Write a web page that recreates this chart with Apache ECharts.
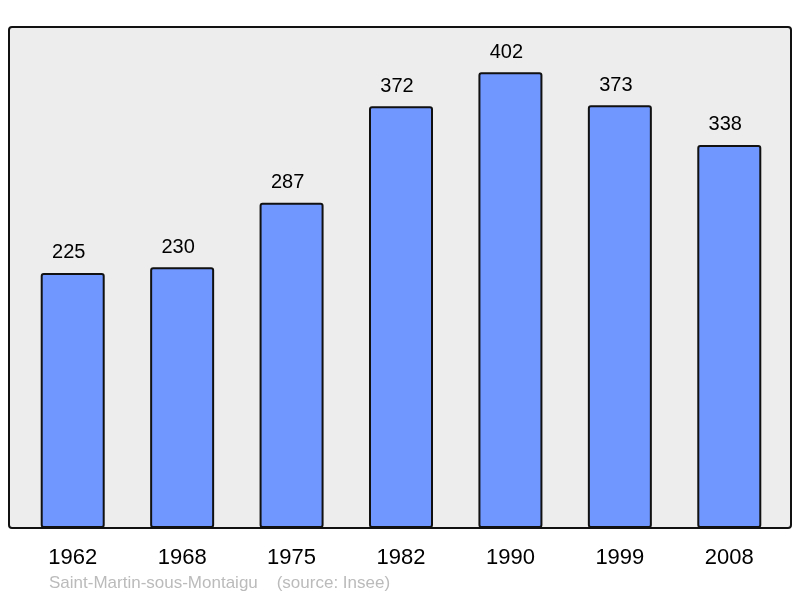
<!DOCTYPE html>
<html>
<head>
<meta charset="utf-8">
<script src="https://cdn.jsdelivr.net/npm/echarts@6/dist/echarts.min.js"></script>
<style>
  html, body { margin: 0; padding: 0; background: #fff; }
  #main { width: 800px; height: 598px; }
</style>
</head>
<body>
<div id="main"></div>
<script>
const years = ['1962', '1968', '1975', '1982', '1990', '1999', '2008'];
const population = [225, 230, 287, 372, 402, 373, 338];

const chart = echarts.init(document.getElementById('main'));

chart.setOption({
  animation: false,
  graphic: [
    {
      type: 'rect',
      z: -10,
      shape: { x: 9, y: 27, width: 782, height: 501, r: 3 },
      style: { fill: '#ededed', stroke: '#111', lineWidth: 2 }
    },
    {
      type: 'text',
      left: 49,
      top: 575,
      style: {
        text: 'Saint-Martin-sous-Montaigu    (source: Insee)',
        fill: '#bbbbbb',
        font: '17px "Liberation Sans", Arial, sans-serif'
      }
    }
  ],
  grid: { left: 18, width: 766, top: 27, bottom: 70 },
  xAxis: {
    type: 'category',
    data: years,
    axisLine: { show: false },
    axisTick: { show: false },
    axisLabel: {
      color: '#000',
      fontSize: 22,
      fontFamily: 'Liberation Sans',
      margin: 19
    }
  },
  yAxis: {
    type: 'value',
    min: 0,
    max: 442,
    show: false,
    splitLine: { show: false }
  },
  series: [
    {
      type: 'bar',
      data: population,
      barWidth: 64,
      itemStyle: {
        color: '#7096ff',
        borderColor: '#111',
        borderWidth: 2,
        borderRadius: 2
      },
      label: {
        show: true,
        position: 'top',
        distance: 10,
        offset: [-4, 0],
        color: '#000',
        fontSize: 20,
        fontFamily: 'Liberation Sans'
      }
    }
  ]
});
</script>
</body>
</html>
